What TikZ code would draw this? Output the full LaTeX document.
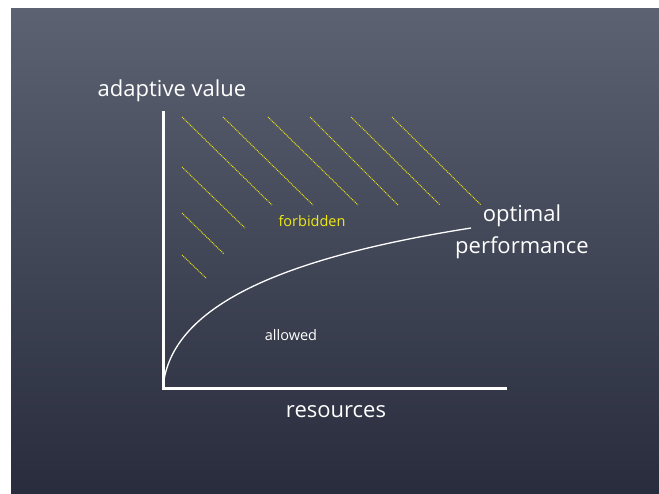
\documentclass[tikz,border=0pt]{standalone}
\usepackage{fontspec}
\setmainfont{Open Sans}
\usepackage{tikz}
\usetikzlibrary{positioning,backgrounds}

\definecolor{slatetop}{RGB}{92,98,114}
\definecolor{slatemid}{RGB}{76,82,98}
\definecolor{slatebot}{RGB}{40,44,60}
\definecolor{chalkyellow}{RGB}{240,234,16}

\begin{document}
\begin{tikzpicture}[x=1pt,y=-1pt,inner sep=0pt,
                    every node/.style={text=white,anchor=base},
                    biglabel/.style={font=\fontsize{22}{26}\selectfont},
                    smalllabel/.style={font=\fontsize{14.5}{17}\selectfont},
                    axis/.style={white,line width=3pt},
                    hatch/.style={chalkyellow,line width=0.9pt,dash pattern=on 1pt off 0.9pt}]
    \useasboundingbox (0,0) rectangle (659,493);
    \fill [white] (0,0) rectangle (659,493);
    \shade [top color=slatetop,middle color=slatemid,bottom color=slatebot] (11,8) rectangle (659,493);

    \coordinate (origin) at (163,388);
    \coordinate (ytop)   at (163,111);
    \coordinate (xend)   at (507,388);
    \coordinate (optend) at (471,228);

    \node at (172, 96) (yl)    [biglabel]                     {adaptive value};
    \node at (336,417) (xl)    [biglabel]                     {resources};
    \node at (522,221) (optl)  [biglabel]                     {optimal};
    \node at (522,253) (perfl) [biglabel]                     {performance};
    \node at (312,226) (forb)  [smalllabel,text=chalkyellow]  {forbidden};
    \node at (291,340) (allow) [smalllabel]                   {allowed};

    \draw [axis] (ytop) -- (origin) -- (xend);
    \draw [white, line width=1.3pt] (origin) .. controls (170,300) and (300,255) .. (optend);

    \draw [hatch] (182,117) -- (272,205);
    \draw [hatch] (223,117) -- (313,205);
    \draw [hatch] (268,117) -- (358,205);
    \draw [hatch] (310,117) -- (398,205);
    \draw [hatch] (351,117) -- (440,205);
    \draw [hatch] (392,117) -- (481,205);
    \draw [hatch] (182,167) -- (245,228);
    \draw [hatch] (182,213) -- (224,254);
    \draw [hatch] (182,255) -- (206,278);
\end{tikzpicture}
\end{document}
